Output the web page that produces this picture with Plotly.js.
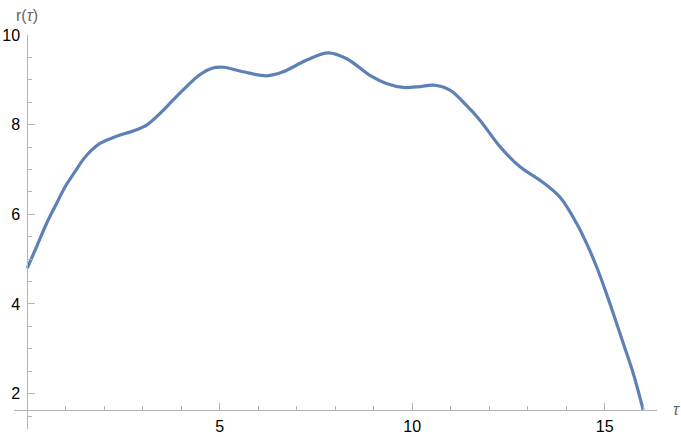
<!DOCTYPE html>
<html>
<head>
<meta charset="utf-8">
<script src="https://cdn.plot.ly/plotly-3.0.1.min.js"></script>
<style>html,body{margin:0;padding:0;background:#fff;}#chart{width:681px;height:437px;}</style>
</head>
<body>
<div id="chart"></div>
<script>
var tau = [0, 0.244, 0.504, 0.764, 0.98, 1.24, 1.45, 1.67, 1.89, 2.32, 2.75, 3.10, 3.45, 3.79, 4.15, 4.49, 4.80, 5.10, 5.61, 6.22, 6.65, 7.26, 7.82, 8.30, 8.9, 9.33, 9.77, 10.2, 10.55, 10.98, 11.41, 11.76, 12.28, 12.80, 13.32, 13.83, 14.27, 14.53, 14.79, 15.01, 15.22, 15.48, 15.74, 16.0];
var r = [4.80, 5.28, 5.80, 6.245, 6.61, 6.95, 7.22, 7.43, 7.58, 7.74, 7.86, 7.99, 8.25, 8.55, 8.86, 9.12, 9.26, 9.28, 9.18, 9.09, 9.18, 9.44, 9.60, 9.47, 9.10, 8.92, 8.83, 8.85, 8.88, 8.77, 8.43, 8.10, 7.51, 7.06, 6.76, 6.39, 5.80, 5.35, 4.83, 4.32, 3.80, 3.13, 2.46, 1.64];
var xTicks = [5, 10, 15];
var yTicks = [2, 4, 6, 8, 10];
var xTickText = ["5", "10", "15"];
var yTickText = ["2", "4", "6", "8", "10"];

var FONT = "Liberation Sans, Arial, sans-serif";
var xr = [-0.345, 16.36];
var yr = [1.21, 10];

var trace = {
  x: tau, y: r, type: "scatter", mode: "lines",
  line: {color: "rgb(94,129,181)", width: 3.2, shape: "spline", smoothing: 1},
  hoverinfo: "skip"
};

var layout = {
  width: 681, height: 437,
  margin: {l: 14, r: 24, t: 35, b: 8, pad: 0},
  paper_bgcolor: "#fff", plot_bgcolor: "#fff",
  showlegend: false,
  font: {family: FONT, size: 16, color: "#000"},
  xaxis: {
    range: xr, anchor: "free", position: (1.635 - yr[0]) / (yr[1] - yr[0]),
    showgrid: false, zeroline: false,
    showline: true, linecolor: "#b4b4b4", linewidth: 1,
    ticks: "inside", ticklen: 7, tickcolor: "#b4b4b4", tickwidth: 1,
    tickmode: "array", tickvals: xTicks, ticktext: xTickText,
    tickfont: {family: FONT, size: 16, color: "#000"},
    ticklabelstandoff: 2,
    minor: {dtick: 1, tick0: 0, ticks: "inside", ticklen: 4, tickcolor: "#b4b4b4", tickwidth: 1, showgrid: false}
  },
  yaxis: {
    range: yr, anchor: "free", position: (0 - xr[0]) / (xr[1] - xr[0]),
    showgrid: false, zeroline: false,
    showline: true, linecolor: "#b4b4b4", linewidth: 1,
    ticks: "inside", ticklen: 7, tickcolor: "#b4b4b4", tickwidth: 1,
    tickmode: "array", tickvals: yTicks, ticktext: yTickText,
    tickfont: {family: FONT, size: 16, color: "#000"},
    ticklabelstandoff: 4,
    minor: {dtick: 0.5, tick0: 0, ticks: "inside", ticklen: 4, tickcolor: "#b4b4b4", tickwidth: 1, showgrid: false}
  },
  annotations: [
    {text: "r(<i>τ</i>)", xref: "paper", yref: "paper", x: (0 - xr[0]) / (xr[1] - xr[0]), y: 1, xanchor: "center", yanchor: "bottom", yshift: 9, showarrow: false, font: {family: FONT, size: 16, color: "#666"}},
    {text: "<i>τ</i>", xref: "paper", yref: "paper", x: 1, y: (1.635 - yr[0]) / (yr[1] - yr[0]), xanchor: "left", yanchor: "middle", xshift: 14, showarrow: false, font: {family: FONT, size: 16, color: "#666"}}
  ]
};

Plotly.newPlot("chart", [trace], layout, {staticPlot: true, displayModeBar: false});
</script>
</body>
</html>
